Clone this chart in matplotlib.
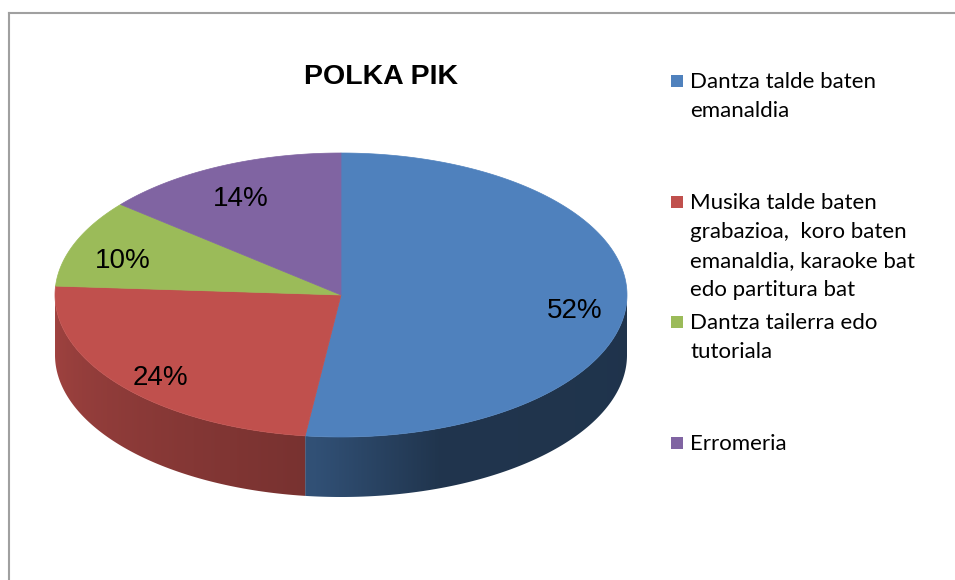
import numpy as np
import matplotlib
matplotlib.use('Agg')
import matplotlib.pyplot as plt
from matplotlib.patches import Polygon, Rectangle
from matplotlib.colors import to_rgb
from matplotlib.lines import Line2D


TITLE = 'POLKA PIK'
LABELS = [
    'Dantza talde baten\nemanaldia',
    'Musika talde baten\ngrabazioa,  koro baten\nemanaldia, karaoke bat\nedo partitura bat',
    'Dantza tailerra edo\ntutoriala',
    'Erromeria',
]
VALUES = [52, 24, 10, 14]
COLORS = ['#4F81BD', '#C0504D', '#9BBB59', '#8064A2']

# pie geometry, in pixels
CX, CY = 341, 295
RX, RY = 286, 142
DEPTH = 60


def ellipse_xy(theta, dy=0):
    t = np.radians(theta)
    return CX + RX * np.cos(t), CY - RY * np.sin(t) + dy


def side_shade(x):
    # brightness of the side wall; front half, so angle follows from x
    c = np.clip((x - CX) / RX, -1, 1)
    a = 360 - np.degrees(np.arccos(c))
    return np.interp(a, [180, 265, 290, 360], [0.84, 0.62, 0.41, 0.40])


def draw_pie(ax):
    total = float(sum(VALUES))
    spans = []
    a = 90.0
    for v in VALUES:
        spans.append((a, a - 360 * v / total))
        a -= 360 * v / total

    # side walls first (front half only), shaded by a clipped gradient
    xs = np.linspace(CX - RX, CX + RX, 600)
    shade = side_shade(xs)
    for (a0, a1), col in zip(spans, COLORS):
        base = np.array(to_rgb(col))
        hi, lo = max(a0, a1), min(a0, a1)
        for shift in (-360, 0, 360):
            s0 = max(lo + shift, 180)
            s1 = min(hi + shift, 360)
            if s1 <= s0:
                continue
            th = np.linspace(s0, s1, 200)
            x, y = ellipse_xy(th)
            xb, yb = ellipse_xy(th[::-1], DEPTH)
            pts = np.column_stack([np.r_[x, xb], np.r_[y, yb]])
            poly = Polygon(pts, closed=True, facecolor='none',
                           edgecolor='none')
            ax.add_patch(poly)
            img = np.clip(base[None, None, :] * shade[None, :, None], 0, 1)
            im = ax.imshow(img, extent=(CX - RX, CX + RX, CY + RY + DEPTH,
                                        CY - RY), aspect='auto',
                           interpolation='bilinear', zorder=1)
            im.set_clip_path(poly)

    # top faces
    for (a0, a1), col in zip(spans, COLORS):
        th = np.linspace(a0, a1, 200)
        x, y = ellipse_xy(th)
        pts = np.column_stack([np.r_[CX, x], np.r_[CY, y]])
        ax.add_patch(Polygon(pts, closed=True, facecolor=col,
                             edgecolor=col, lw=0.5, zorder=2))

    # percentage labels
    for (a0, a1), v in zip(spans, VALUES):
        mid = np.radians((a0 + a1) / 2)
        lx = CX + 0.82 * RX * np.cos(mid)
        ly = CY - 0.82 * RY * np.sin(mid) + 6
        ax.text(lx, ly + 10, '%d%%' % round(100 * v / total),
                ha='center', va='baseline', fontsize=20,
                family='Liberation Sans', color='black', zorder=3)


def draw_legend(ax):
    n = len(LABELS)
    ys = np.linspace(81, 443, n)
    for lab, col, y in zip(LABELS, COLORS, ys):
        ax.add_patch(Rectangle((671, y - 6), 12, 12, facecolor=col,
                               edgecolor='none'))
        for i, line in enumerate(lab.split('\n')):
            ax.text(690, y + 7 + 29 * i, line, ha='left', va='baseline',
                    fontsize=16, family='Lato', color='black')


def main():
    fig = plt.figure(figsize=(9.55, 5.8), dpi=100)
    ax = fig.add_axes([0, 0, 1, 1])
    ax.axis('off')

    # chart area border (only top and left visible)
    ax.add_line(Line2D([8.5, 8.5], [580, 12.5], color='#A0A0A0', lw=1.5))
    ax.add_line(Line2D([8.5, 955], [12.5, 12.5], color='#A0A0A0', lw=1.5))

    ax.text(381, 84, TITLE, ha='center', va='baseline', fontsize=20.5,
            fontweight='bold', family='Liberation Sans')

    draw_pie(ax)
    draw_legend(ax)

    ax.set_xlim(0, 955)
    ax.set_ylim(580, 0)

    fig.savefig('out.png', dpi=100)


main()
